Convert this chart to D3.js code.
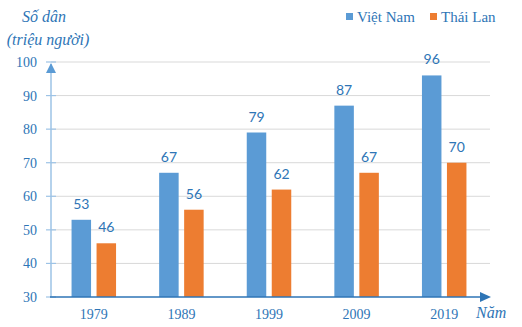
<!DOCTYPE html>
<html><head><meta charset="utf-8">
<script src="https://cdn.jsdelivr.net/npm/d3@7"></script>
<style>body{margin:0;background:#fff}svg{display:block}text{font-family:"Liberation Serif","Times New Roman",serif}</style>
</head><body><svg id="c" width="522" height="327"></svg>
<script>
const categories = ["1979","1989","1999","2009","2019"];
const seriesNames = ["Việt Nam","Thái Lan"];
const vietNam = [53,67,79,87,96];
const thaiLan = [46,56,62,67,70];
const yTicks = [30,40,50,60,70,80,90,100];
const colors = ["#5b9bd5","#ed7d31"];
const textColor = "#2e75b6";

const svg = d3.select("#c");
const x0 = d3.scaleBand().domain(categories).range([50,488]);
const x1 = d3.scaleBand().domain(seriesNames).range([-22.25,22.25]).paddingInner(0.22);
const y = d3.scaleLinear().domain([30,100]).range([297,62]);

// gridlines
svg.append("g").selectAll("line").data(yTicks.filter(d=>d>30)).join("line")
  .attr("x1",51).attr("x2",490).attr("y1",d=>y(d)).attr("y2",d=>y(d))
  .attr("stroke","#d9d9d9").attr("stroke-width",1);

// y axis
const yAxis = d3.axisLeft(y).tickValues(yTicks).tickSize(0).tickPadding(14);
const ya = svg.append("g").attr("transform","translate(51,0)").call(yAxis);
ya.attr("font-family",null);
ya.select(".domain").remove();
ya.selectAll("text").attr("fill",textColor).attr("font-size",14).style("font-family","'Liberation Serif', serif");
svg.append("line").attr("x1",51).attr("x2",51).attr("y1",y(30)).attr("y2",64)
  .attr("stroke","#9dc3e6").attr("stroke-width",1.5);
svg.append("g").selectAll("line").data(yTicks).join("line")
  .attr("x1",46).attr("x2",56).attr("y1",d=>y(d)).attr("y2",d=>y(d))
  .attr("stroke","#9dc3e6").attr("stroke-width",1.2);
svg.append("path").attr("d","M51,63 L46,73 L56,73 Z").attr("fill","#5b9bd5");

// bars
const groups = svg.append("g").selectAll("g").data(categories).join("g")
  .attr("transform",d=>`translate(${x0(d)+x0.bandwidth()/2},0)`);
const data = (c,i)=>[{s:seriesNames[0],v:vietNam[i]},{s:seriesNames[1],v:thaiLan[i]}];
groups.selectAll("rect").data(data).join("rect")
  .attr("x",d=>x1(d.s)).attr("width",x1.bandwidth())
  .attr("y",d=>y(d.v)).attr("height",d=>y(30)-y(d.v))
  .attr("fill",(d,i)=>colors[i]);
groups.selectAll("text.v").data(data).join("text").attr("class","v")
  .attr("x",d=>x1(d.s)+x1.bandwidth()/2).attr("y",d=>y(d.v)-11)
  .attr("text-anchor","middle").attr("font-size",14).attr("fill",textColor)
  .style("font-family","Lato, 'Open Sans', sans-serif")
  .text(d=>d.v);

// x axis
const xAxis = d3.axisBottom(x0).tickSize(0).tickPadding(12);
const xa = svg.append("g").attr("transform",`translate(0,${y(30)})`).call(xAxis);
xa.attr("font-family",null);
xa.select(".domain").remove();
xa.selectAll("text").attr("fill",textColor).attr("font-size",14).style("font-family","'Liberation Serif', serif");
svg.append("line").attr("x1",50).attr("x2",481).attr("y1",y(30)).attr("y2",y(30))
  .attr("stroke","#2e75b6").attr("stroke-width",1.5);
svg.append("path").attr("d",`M491,${y(30)} L480,${y(30)-5} L480,${y(30)+5} Z`).attr("fill","#2e75b6");

// titles
svg.append("text").attr("x",44).attr("y",22).attr("text-anchor","middle")
  .attr("font-size",16).attr("font-style","italic").attr("fill",textColor).text("Số dân");
svg.append("text").attr("x",48).attr("y",45).attr("text-anchor","middle")
  .attr("font-size",16).attr("font-style","italic").attr("fill",textColor).text("(triệu người)");
svg.append("text").attr("x",476).attr("y",318)
  .attr("font-size",16).attr("font-style","italic").attr("fill",textColor).text("Năm");

// legend
const lx = [346,430];
const lg = svg.append("g").selectAll("g").data(seriesNames).join("g")
  .attr("transform",(d,i)=>`translate(${lx[i]},0)`);
lg.append("rect").attr("x",0).attr("y",13).attr("width",7).attr("height",7).attr("fill",(d,i)=>colors[i]);
lg.append("text").attr("x",11).attr("y",22).attr("font-size",15).attr("fill",textColor).text(d=>d);
</script></body></html>
